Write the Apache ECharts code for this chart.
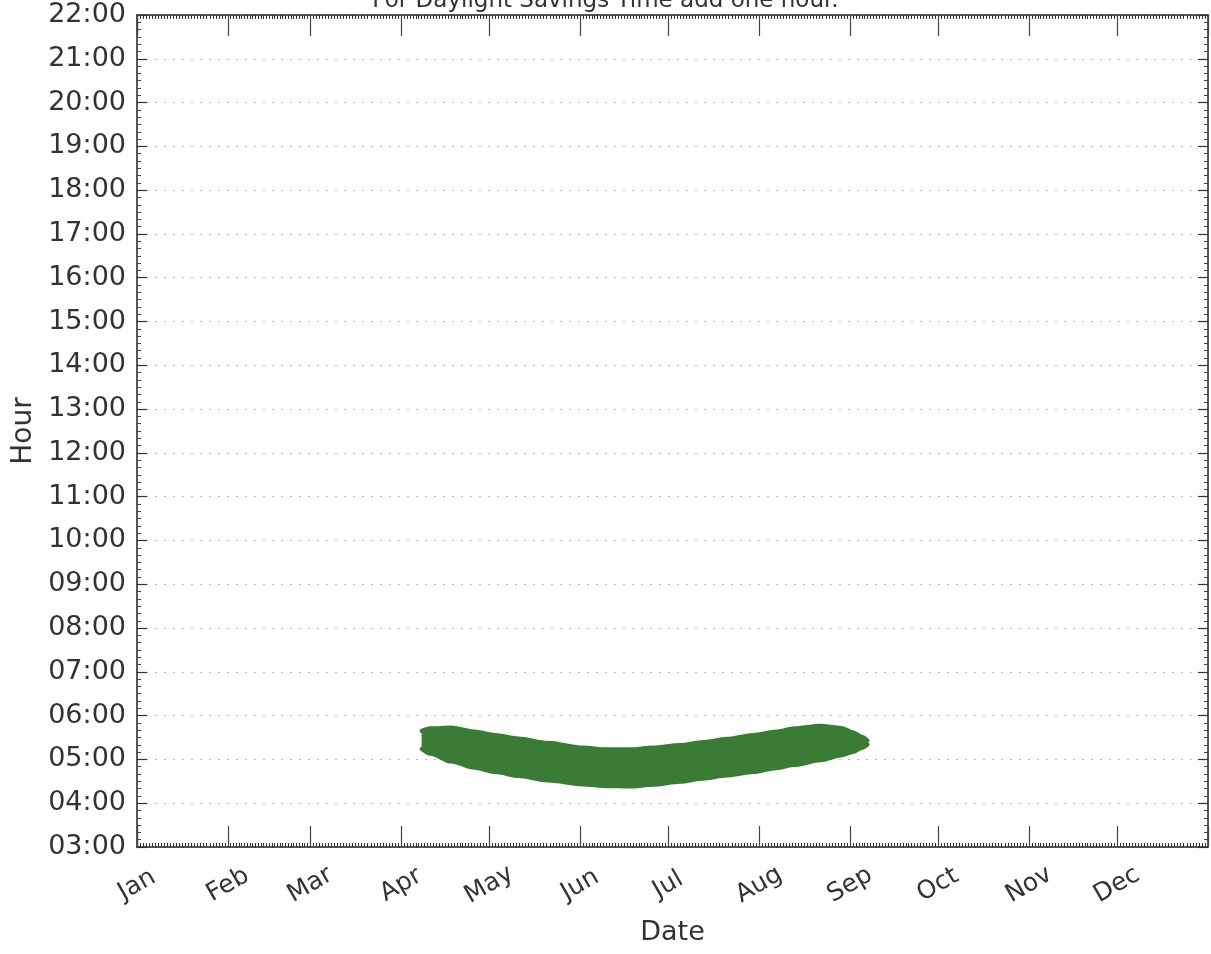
<!DOCTYPE html>
<html>
<head>
<meta charset="utf-8">
<script src="https://cdn.jsdelivr.net/npm/echarts@6/dist/echarts.min.js"></script>
<style>
html,body{margin:0;padding:0;background:#fff;}
#chart{width:1211px;height:954px;}
</style>
</head>
<body>
<div id="chart"></div>
<script>
const titleText = 'For Daylight Savings Time add one hour.';
const monthLabels = ['Jan','Feb','Mar','Apr','May','Jun','Jul','Aug','Sep','Oct','Nov','Dec'];
const hourLabels = ['03:00','04:00','05:00','06:00','07:00','08:00','09:00','10:00','11:00','12:00',
  '13:00','14:00','15:00','16:00','17:00','18:00','19:00','20:00','21:00','22:00'];
const bandDates = ['2013-04-08','2013-04-11','2013-04-18','2013-04-26','2013-05-03','2013-05-11',
  '2013-05-21','2013-06-02','2013-06-10','2013-06-18','2013-06-26','2013-07-05','2013-07-13',
  '2013-07-21','2013-07-30','2013-08-07','2013-08-13','2013-08-22','2013-08-29','2013-09-02',
  '2013-09-05','2013-09-07'];
const bandLow = [5.24,5.13,4.95,4.81,4.71,4.62,4.52,4.43,4.39,4.38,4.42,4.49,4.56,4.63,4.71,4.80,
  4.87,4.98,5.09,5.17,5.26,5.34];
const bandHigh = [5.65,5.71,5.73,5.64,5.56,5.48,5.38,5.27,5.23,5.23,5.27,5.33,5.40,5.47,5.56,5.64,
  5.71,5.77,5.72,5.62,5.52,5.43];

const FONT = 'DejaVu Sans';
const TXT = '#333333';
const AX = '#222222';
const GREEN = '#3a7b35';

const t0 = new Date(2013, 0, 1).getTime();
const t1 = new Date(2014, 0, 1).getTime();
const DAY = 86400000;

const lowData = bandDates.map((d, i) => [d, bandLow[i]]);
const widthData = bandDates.map((d, i) => [d, +(bandHigh[i] - bandLow[i]).toFixed(3)]);

const chart = echarts.init(document.getElementById('chart'), null, {renderer: 'canvas'});

const xBase = {
  type: 'time', min: t0, max: t1, splitNumber: 12,
  minInterval: 28 * DAY, maxInterval: 31 * DAY,
  axisLine: {show: true, lineStyle: {color: AX, width: 1.5}},
  axisTick: {show: true, inside: true, length: 21, lineStyle: {color: '#444', width: 1.2}},
  minorTick: {show: true, splitNumber: 30, length: 4, lineStyle: {color: '#333', width: 1}},
  splitLine: {show: false},
  minorSplitLine: {show: false}
};
const yBase = {
  type: 'value', min: 3, max: 22, interval: 1,
  axisLine: {show: true, lineStyle: {color: AX, width: 1.5}},
  axisTick: {show: true, inside: true, length: 10, lineStyle: {color: '#333', width: 1.2}},
  minorTick: {show: true, splitNumber: 6, length: 4, lineStyle: {color: '#444', width: 1}},
  minorSplitLine: {show: false}
};

chart.setOption({
  backgroundColor: '#ffffff',
  animation: false,
  title: {
    text: titleText, left: 'center', top: -10, padding: 0,
    textStyle: {fontFamily: FONT, fontSize: 23, fontWeight: 'normal', color: TXT, lineHeight: 23}
  },
  grid: {left: 137, right: 3, top: 15, bottom: 107, containLabel: false},
  xAxis: [
    Object.assign({}, xBase, {
      position: 'bottom',
      name: 'Date', nameLocation: 'middle', nameGap: 72,
      nameTextStyle: {fontFamily: FONT, fontSize: 27, color: TXT},
      axisLabel: {
        show: true, rotate: 30, align: 'center', verticalAlign: 'middle', margin: 38,
        fontFamily: FONT, fontSize: 25, color: TXT, showMaxLabel: false,
        formatter: function (v) { return monthLabels[new Date(v).getMonth()]; }
      }
    }),
    Object.assign({}, xBase, {position: 'top', axisLabel: {show: false}})
  ],
  yAxis: [
    Object.assign({}, yBase, {
      position: 'left',
      name: 'Hour', nameLocation: 'middle', nameGap: 98, nameRotate: 90,
      nameTextStyle: {fontFamily: FONT, fontSize: 28, color: TXT},
      axisLabel: {
        show: true, margin: 11, fontFamily: FONT, fontSize: 27, color: TXT,
        formatter: function (v) { return hourLabels[Math.round(v) - 3]; }
      },
      splitLine: {show: true, lineStyle: {color: '#b8b8b8', width: 1, type: [2, 7]}}
    }),
    Object.assign({}, yBase, {position: 'right', axisLabel: {show: false}, splitLine: {show: false}})
  ],
  series: [
    {
      name: 'low', type: 'line', xAxisIndex: 0, yAxisIndex: 0, stack: 'band',
      data: lowData, smooth: 0.3, smoothMonotone: 'x', symbol: 'none',
      lineStyle: {color: GREEN, width: 4, cap: 'round', join: 'round'},
      z: 3
    },
    {
      name: 'band', type: 'line', xAxisIndex: 0, yAxisIndex: 0, stack: 'band',
      data: widthData, smooth: 0.3, smoothMonotone: 'x', symbol: 'none',
      lineStyle: {color: GREEN, width: 4, cap: 'round', join: 'round'},
      areaStyle: {color: GREEN, opacity: 1},
      z: 3
    }
  ]
});
</script>
</body>
</html>
